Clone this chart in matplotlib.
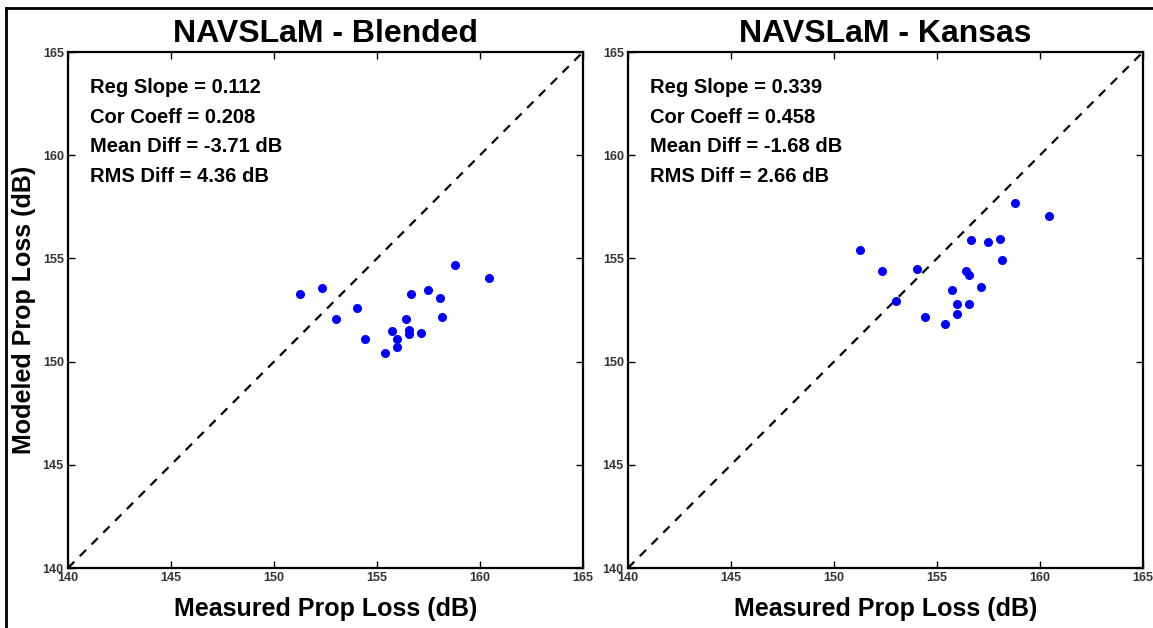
import numpy as np
import matplotlib.pyplot as plt
from matplotlib.lines import Line2D

plt.rcParams['font.family'] = ['Liberation Sans', 'DejaVu Sans']

# measured prop loss (dB), same for both panels
measured = [151.27, 152.31, 153.03, 154.02, 154.40, 155.38, 155.74, 155.96, 155.99,
            156.40, 156.55, 156.55, 156.65, 157.15, 157.49, 158.05, 158.14, 158.80, 160.45]

# modeled prop loss (dB)
blended = [153.28, 153.58, 152.08, 152.58, 151.08, 150.40, 151.50, 151.10, 150.72,
           152.08, 151.53, 151.34, 153.28, 151.37, 153.47, 153.10, 152.18, 154.68, 154.07]
kansas = [155.39, 154.37, 152.95, 154.49, 152.18, 151.81, 153.47, 152.79, 152.29,
          154.39, 154.20, 152.79, 155.88, 153.61, 155.79, 155.95, 154.91, 157.68, 157.07]

titles = ['NAVSLaM - Blended', 'NAVSLaM - Kansas']
stats = [['Reg Slope = 0.112', 'Cor Coeff = 0.208', 'Mean Diff = -3.71 dB', 'RMS Diff = 4.36 dB'],
         ['Reg Slope = 0.339', 'Cor Coeff = 0.458', 'Mean Diff = -1.68 dB', 'RMS Diff = 2.66 dB']]
ticks = [140, 145, 150, 155, 160, 165]

W, H = 1153, 628
fig = plt.figure(figsize=(W / 100, H / 100), dpi=100)

# partial frame around the figure (left + top)
fig.add_artist(Line2D([6 / W, 6 / W], [0, 1 - 8 / H], color='black', lw=2))
fig.add_artist(Line2D([6 / W, 1], [1 - 8 / H, 1 - 8 / H], color='black', lw=2))

lefts = [68, 628]
for i, (model, title) in enumerate(zip([blended, kansas], titles)):
    ax = fig.add_axes([lefts[i] / W, (H - 568) / H, 515 / W, 516 / H])
    ax.plot([140, 165], [140, 165], '--', color='black', lw=1.6, dashes=(4, 3.5))
    ax.plot(measured, model, 'o', color='#0000ff', ms=5.5, mec='#0000ff')
    ax.set_xlim(140, 165)
    ax.set_ylim(140, 165)
    ax.set_xticks(ticks)
    ax.set_yticks(ticks)
    ax.tick_params(direction='in', top=True, right=True, length=5, width=1,
                   labelsize=9, labelcolor='#333333', pad=3)
    for lab in ax.get_xticklabels() + ax.get_yticklabels():
        lab.set_fontweight('bold')
    for s in ax.spines.values():
        s.set_linewidth(1.6)
    ax.set_title(title, fontsize=23, fontweight='bold', pad=7)
    ax.set_xlabel('Measured Prop Loss (dB)', fontsize=18, fontweight='bold', labelpad=9)
    if i == 0:
        ax.set_ylabel('Modeled Prop Loss (dB)', fontsize=18, fontweight='bold', labelpad=5)
    for k, line in enumerate(stats[i]):
        ax.text(0.042, 0.932 - k * 0.058, line, transform=ax.transAxes,
                fontsize=14.5, fontweight='bold', va='center', ha='left')

fig.savefig('out.png', dpi=100)
